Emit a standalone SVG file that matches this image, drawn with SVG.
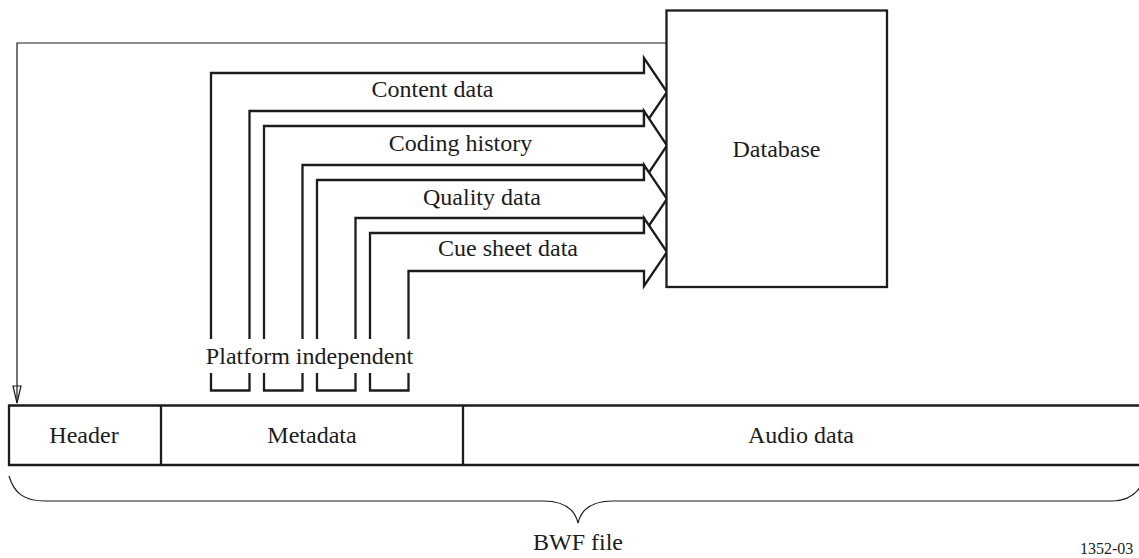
<svg xmlns="http://www.w3.org/2000/svg" width="1139" height="558" viewBox="0 0 1139 558">
<defs>
<style>
.thick{fill:#fff;stroke:#1c1c1c;stroke-width:2.3;stroke-linejoin:miter}
.open{fill:none;stroke:#1c1c1c;stroke-width:2.3}
.thin{fill:none;stroke:#1c1c1c;stroke-width:1.2}
.box{fill:#fff;stroke:#1c1c1c;stroke-width:2.3}
.lbl{font-family:'Liberation Serif','DejaVu Serif',serif;font-size:24px;fill:#1c1c1c;text-anchor:middle}
.tag{font-family:'Liberation Serif','DejaVu Serif',serif;font-size:16px;fill:#1c1c1c}
</style>
</defs>
<rect width="1139" height="558" fill="#fff"/>

<g id="connectors">
<path id="feedback" class="thin" d="M666,43 H17 V403"/>
<path class="thin" d="M13,386 L17,403 L21,386 Z"/>
<g id="arrow-content">
<path class="thick" d="M211,339 V73 H644 V58 L667,92 L644,126 V111 H249.5 V339"/>
<path class="open" d="M211,373 V390.5 H249.5 V373"/>
<text class="lbl" x="432.5" y="97" font-family="Liberation Serif">Content data</text>
</g>
<g id="arrow-coding">
<path class="thick" d="M264,339 V126 H644 V111 L667,145.5 L644,180 V165 H302.5 V339"/>
<path class="open" d="M264,373 V390.5 H302.5 V373"/>
<text class="lbl" x="460.5" y="151">Coding history</text>
</g>
<g id="arrow-quality">
<path class="thick" d="M317,339 V180 H644 V165 L667,199 L644,233 V218 H355.5 V339"/>
<path class="open" d="M317,373 V390.5 H355.5 V373"/>
<text class="lbl" x="482" y="205">Quality data</text>
</g>
<g id="arrow-cue">
<path class="thick" d="M370,339 V233 H644 V218 L667,252 L644,286 V271 H408.5 V339"/>
<path class="open" d="M370,373 V390.5 H408.5 V373"/>
<text class="lbl" x="508" y="256">Cue sheet data</text>
</g>
<text class="lbl" x="309.5" y="364">Platform independent</text>
</g>

<g id="database">
<rect class="box" x="666.5" y="10.5" width="220.5" height="276.5"/>
<text class="lbl" x="776.5" y="157">Database</text>
</g>

<g id="bwf-file">
<path class="open" d="M1141,405.5 H9 V465 H1141"/>
<g id="header">
<line class="open" x1="161" y1="405.5" x2="161" y2="465"/>
<text class="lbl" x="84" y="443">Header</text>
</g>
<g id="metadata">
<line class="open" x1="463" y1="405.5" x2="463" y2="465"/>
<text class="lbl" x="312" y="443">Metadata</text>
</g>
<g id="audio">
<text class="lbl" x="801" y="443">Audio data</text>
</g>
</g>

<g id="brace">
<path class="thin" d="M9,476 C14,493 24,501 45,501 L543,501 C565,501 575,510 578,523 C581,510 591,501 613,501 L1112,501 C1130,501 1140,492 1146,476"/>
<text class="lbl" x="578" y="550">BWF file</text>
</g>

<text class="tag" x="1080" y="554">1352-03</text>
</svg>
